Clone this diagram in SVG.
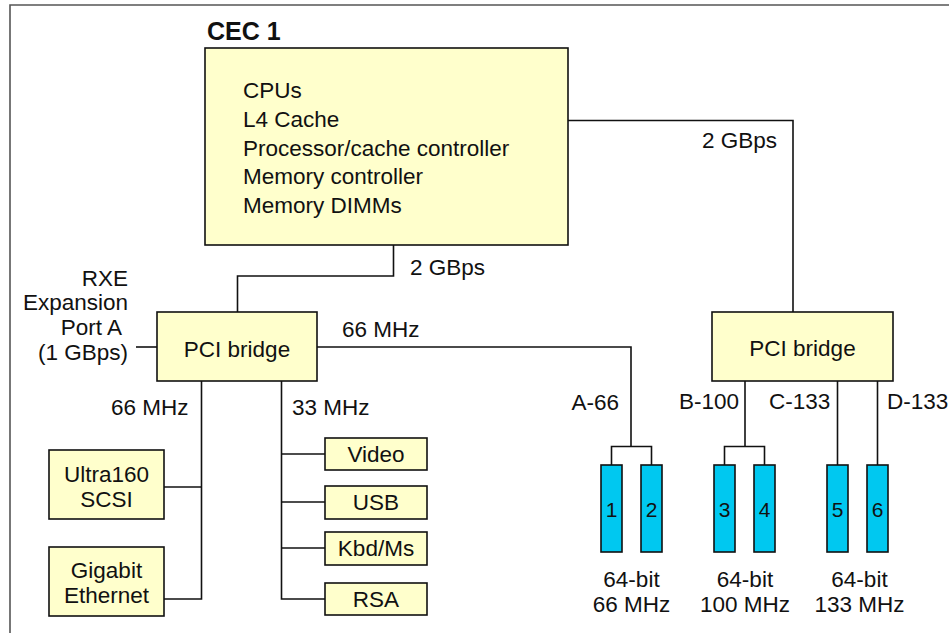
<svg xmlns="http://www.w3.org/2000/svg" width="949" height="633" viewBox="0 0 949 633">
<style>
text{font-family:"Liberation Sans",Arial,Helvetica,sans-serif;font-size:22.5px;fill:#111}
.box{fill:#FFFFCC;stroke:#111;stroke-width:1.6}
.slot{fill:#00C8F0;stroke:#111;stroke-width:1.6}
.c{text-anchor:middle}
.e{text-anchor:end}
.sn{font-size:21px;text-anchor:middle}
#connectors path{fill:none;stroke:#111;stroke-width:1.6}
</style>
<rect width="949" height="633" fill="#fff"/>
<path d="M10,633 V5 H949" fill="none" stroke="#555" stroke-width="1.6"/>

<g id="connectors">
<path d="M568,120.5 H793 V312"/>
<path d="M237.5,312 V276 H393.5 V245"/>
<path d="M136,347 H157"/>
<path d="M317,347 H631 V446.5"/>
<path d="M611.5,465 V446.5 H651.5 V465"/>
<path d="M745,381 V446.5"/>
<path d="M724.5,465 V446.5 H764.5 V465"/>
<path d="M837.5,381 V465"/>
<path d="M877.5,381 V465"/>
<path d="M201.5,381 V599 H164"/>
<path d="M164,487 H201.5"/>
<path d="M281.5,381 V599 H325"/>
<path d="M281.5,454 H325"/>
<path d="M281.5,502 H325"/>
<path d="M281.5,548 H325"/>
</g>

<g id="cec1">
<text x="207" y="40" style="font-weight:bold;font-size:25px">CEC 1</text>
<rect class="box" x="205" y="48" width="363" height="197"/>
<text x="243" y="98">CPUs</text>
<text x="243" y="127">L4 Cache</text>
<text x="243" y="155.5">Processor/cache controller</text>
<text x="243" y="184">Memory controller</text>
<text x="243" y="213">Memory DIMMs</text>
</g>

<g id="labels">
<text x="702" y="148">2 GBps</text>
<text x="410" y="275">2 GBps</text>
<text x="342" y="337">66 MHz</text>
<text x="111" y="415">66 MHz</text>
<text x="292" y="415">33 MHz</text>
<text class="e" x="619" y="410">A-66</text>
<text x="679" y="409">B-100</text>
<text x="769" y="409">C-133</text>
<text x="887" y="409">D-133</text>
</g>

<g id="rxe">
<text class="e" x="128" y="286">RXE</text>
<text class="e" x="128" y="310">Expansion</text>
<text class="e" x="122" y="335">Port A</text>
<text class="e" x="128" y="360">(1 GBps)</text>
</g>

<g id="pci-bridge-1">
<rect class="box" x="157" y="312" width="160" height="69"/>
<text class="c" x="237" y="356.5">PCI bridge</text>
</g>

<g id="pci-bridge-2">
<rect class="box" x="712" y="312" width="181" height="69"/>
<text class="c" x="802.5" y="356">PCI bridge</text>
</g>

<g id="scsi">
<rect class="box" x="49" y="450" width="115" height="69"/>
<text class="c" x="106.5" y="481.5">Ultra160</text>
<text class="c" x="106.5" y="506.5">SCSI</text>
</g>

<g id="ethernet">
<rect class="box" x="49" y="547" width="115" height="69"/>
<text class="c" x="106.5" y="578">Gigabit</text>
<text class="c" x="106.5" y="603">Ethernet</text>
</g>

<g id="video">
<rect class="box" x="325" y="438" width="102" height="32"/>
<text class="c" x="376" y="462">Video</text>
</g>
<g id="usb">
<rect class="box" x="325" y="486" width="102" height="33"/>
<text class="c" x="376" y="510">USB</text>
</g>
<g id="kbdms">
<rect class="box" x="325" y="532" width="102" height="33"/>
<text class="c" x="376" y="556">Kbd/Ms</text>
</g>
<g id="rsa">
<rect class="box" x="325" y="583" width="102" height="32"/>
<text class="c" x="376" y="607">RSA</text>
</g>

<g id="slot1"><rect class="slot" x="601" y="465" width="21" height="87"/><text class="sn" x="611.5" y="516.5">1</text></g>
<g id="slot2"><rect class="slot" x="641" y="465" width="21" height="87"/><text class="sn" x="651.5" y="516.5">2</text></g>
<g id="slot3"><rect class="slot" x="714" y="465" width="21" height="87"/><text class="sn" x="724.5" y="516.5">3</text></g>
<g id="slot4"><rect class="slot" x="754" y="465" width="21" height="87"/><text class="sn" x="764.5" y="516.5">4</text></g>
<g id="slot5"><rect class="slot" x="827" y="465" width="21" height="87"/><text class="sn" x="837.5" y="516.5">5</text></g>
<g id="slot6"><rect class="slot" x="867" y="465" width="21" height="87"/><text class="sn" x="877.5" y="516.5">6</text></g>

<g id="slot-labels">
<text class="c" x="631.5" y="587">64-bit</text>
<text class="c" x="631.5" y="612">66 MHz</text>
<text class="c" x="745" y="587">64-bit</text>
<text class="c" x="745" y="612">100 MHz</text>
<text class="c" x="859.5" y="587">64-bit</text>
<text class="c" x="859.5" y="612">133 MHz</text>
</g>
</svg>
